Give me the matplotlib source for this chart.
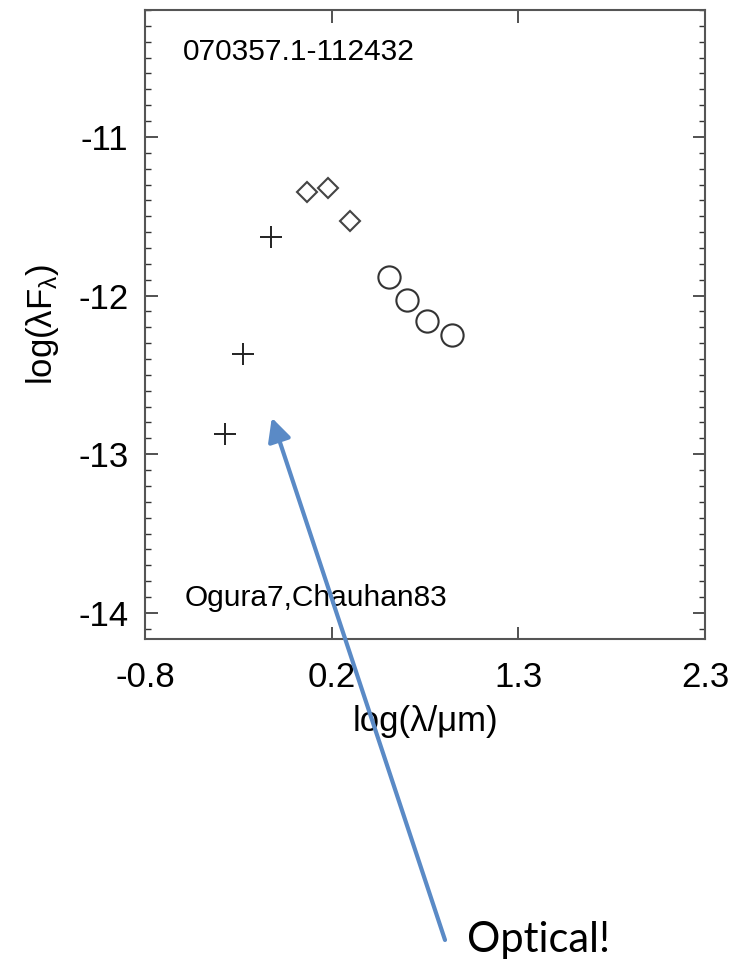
import matplotlib
matplotlib.use("Agg")
import matplotlib.pyplot as plt
from matplotlib.ticker import FixedLocator, MultipleLocator

plt.rcParams['font.family'] = ['Liberation Sans', 'DejaVu Sans']
plt.rcParams['mathtext.fontset'] = 'custom'
plt.rcParams['mathtext.rm'] = 'Liberation Sans'
plt.rcParams['mathtext.it'] = 'Liberation Sans:italic'
plt.rcParams['axes.unicode_minus'] = False

# Dane SED (log lambda [um], log lambda*F_lambda)
optical_x = [-0.357, -0.259, -0.104]
optical_y = [-12.87, -12.37, -11.63]
nir_x = [0.095, 0.215, 0.335]
nir_y = [-11.35, -11.32, -11.53]
irac_x = [0.551, 0.649, 0.763, 0.898]
irac_y = [-11.88, -12.03, -12.16, -12.25]

x_ticks = [-0.8, 0.2333, 1.2667, 2.3]
x_ticklabels = ["-0.8", "0.2", "1.3", "2.3"]
y_ticks = [-14, -13, -12, -11]

source_name = "070357.1-112432"
refs = "Ogura7,Chauhan83"
note = "Optical!"
arrow_tip = (-0.098, -12.77)   # dane
arrow_tail = (445, 27)         # piksele figury

fig = plt.figure(figsize=(7.4, 9.67), dpi=100)
ax = fig.add_axes([145 / 740, 1 - 639 / 967, 560 / 740, 629 / 967])

ax.plot(optical_x, optical_y, ls='none', marker='+', ms=16, mew=1.4, color='#222222')
ax.plot(nir_x, nir_y, ls='none', marker='D', ms=10.5, mew=1.5, mfc='none', mec='#444444')
ax.plot(irac_x, irac_y, ls='none', marker='o', ms=16, mew=1.5, mfc='none', mec='#333333')

ax.set_xlim(-0.8, 2.3)
ax.set_ylim(-14.165, -10.2)

ax.xaxis.set_major_locator(FixedLocator(x_ticks))
ax.set_xticklabels(x_ticklabels)
ax.yaxis.set_major_locator(FixedLocator(y_ticks))
ax.yaxis.set_minor_locator(MultipleLocator(0.1))

ax.tick_params(which='both', direction='in', top=True, right=True, color='#333333')
ax.tick_params(which='major', length=9, width=1.2, labelsize=25)
ax.tick_params(which='minor', length=4.5, width=1.0)
ax.tick_params(axis='x', which='major', pad=16)
ax.tick_params(axis='y', which='major', pad=12)
for s in ax.spines.values():
    s.set_color('#555555')
    s.set_linewidth(1.5)

ax.set_xlabel('log(λ/μm)', fontsize=25, labelpad=8)
ax.set_ylabel('log(λF$_\\mathrm{λ}$)', fontsize=25, labelpad=12)

ax.text(183, 967 - 52, source_name, transform=None, fontsize=21.5, ha='left', va='center')
ax.text(185, 967 - 598, refs, transform=None, fontsize=21.5, ha='left', va='center')

ax.annotate('', xy=arrow_tip, xycoords='data', xytext=arrow_tail, textcoords='figure pixels',
            arrowprops=dict(arrowstyle='-|>,head_length=1.4,head_width=0.7', color='#5a8ac6',
                            lw=3.0, shrinkA=0, shrinkB=0),
            annotation_clip=False)
fig.text(467 / 740, 1 - 940 / 967, note, fontsize=30, family='Lato', ha='left', va='center')

fig.savefig('out.png', dpi=100)
